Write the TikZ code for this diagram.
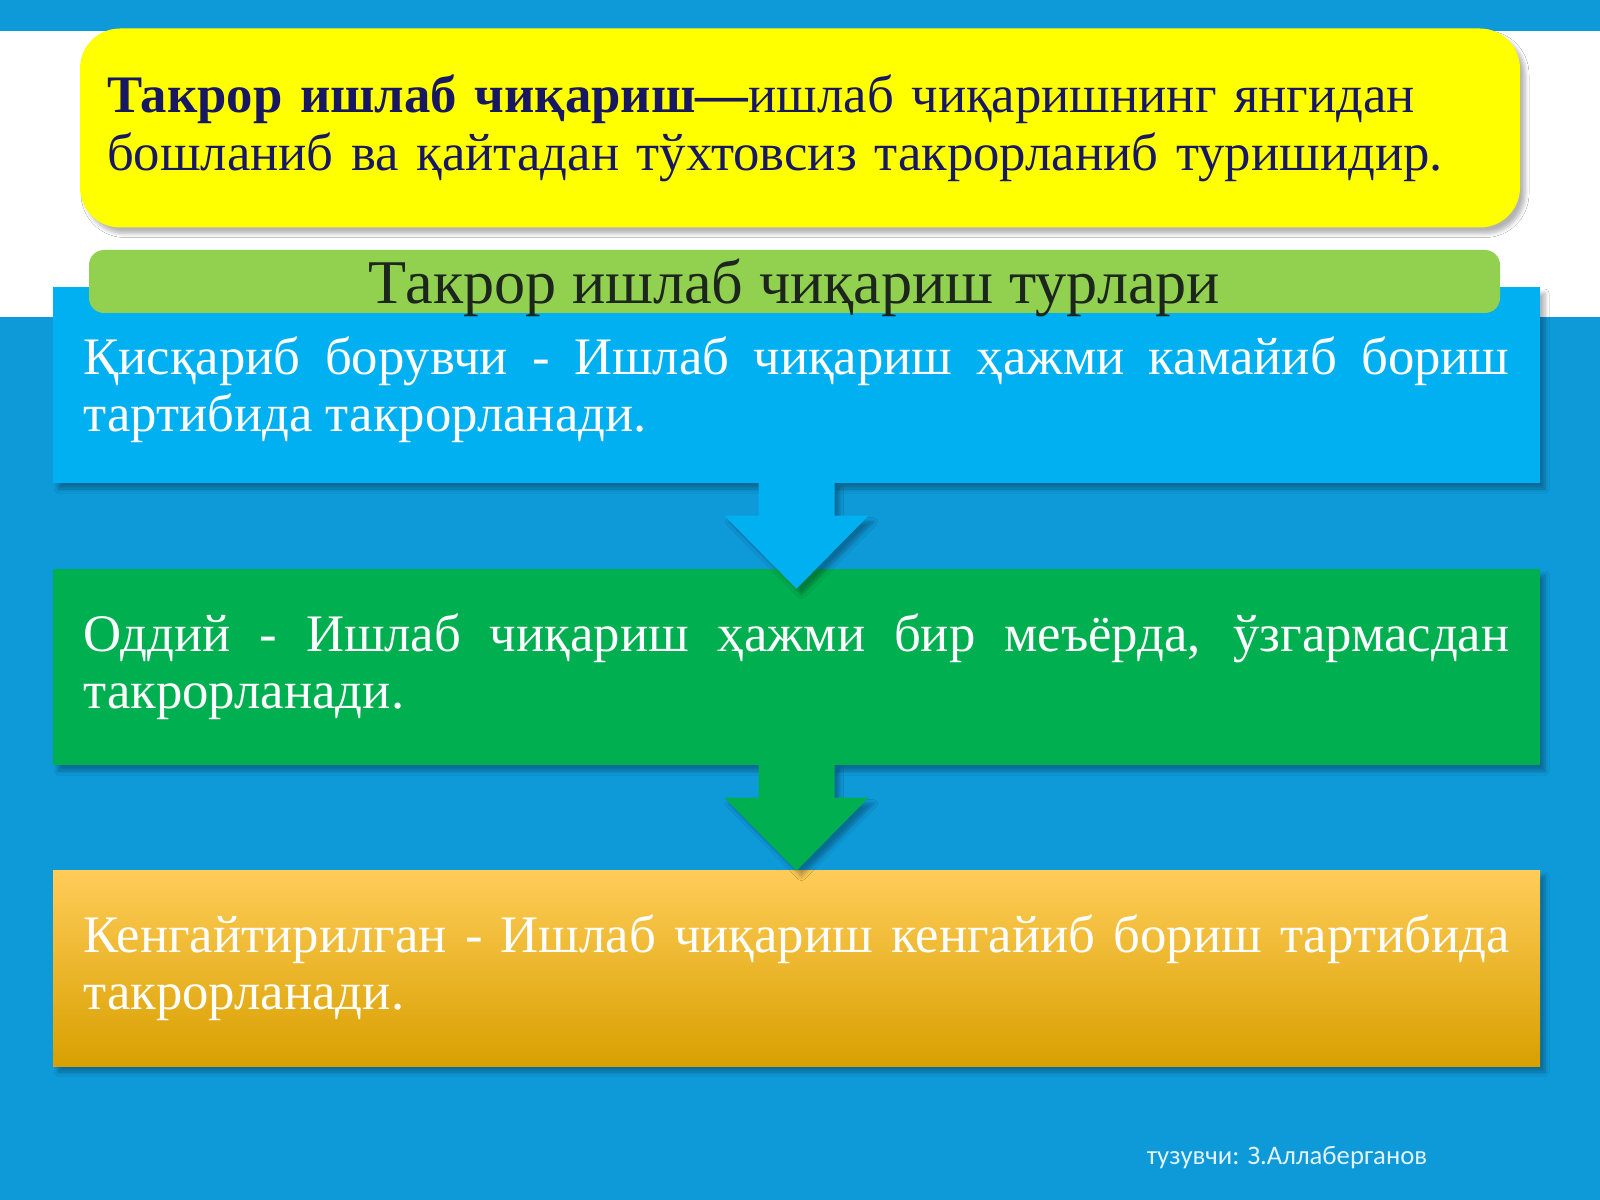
\documentclass[tikz,border=0pt]{standalone}
\usepackage{fontspec}
\setmainfont{Liberation Serif}
\newfontfamily\signfont{Carlito}
\usetikzlibrary{calc,shadows,shadows.blur}

\definecolor{slidebg}{RGB}{14,153,217}
\definecolor{boxblue}{RGB}{0,176,240}
\definecolor{boxgreen}{RGB}{0,176,80}
\definecolor{bargreen}{RGB}{146,208,80}
\definecolor{defyellow}{RGB}{255,255,0}
\definecolor{defnavy}{RGB}{24,24,98}
\definecolor{titledark}{RGB}{28,38,28}
\definecolor{orangetop}{RGB}{255,204,88}
\definecolor{orangebot}{RGB}{216,160,0}

% block arrow from the bottom of one box down to the next one
\newcommand\blockarrow[3]{
	\fill[#1, boxshadow] ($(#2.south)+(-38,-2)$) -- ($(#2.south)+(-38,32)$)
		-- ($(#2.south)+(-72,32)$) -- ($(#3.north)!1!(#2.south)+(0,105)$)
		-- ($(#2.south)+(72,32)$) -- ($(#2.south)+(38,32)$)
		-- ($(#2.south)+(38,-2)$) -- cycle;
	}

\begin{document}
\begin{tikzpicture}[x=0.1mm, y=-0.1mm,
	boxshadow/.style={blur shadow={shadow xshift=0.5mm, shadow yshift=-0.6mm, shadow blur radius=0.4mm,
		shadow blur steps=6, shadow opacity=30}},
	stepbox/.style={boxshadow, minimum width=148.7mm, minimum height=19.6mm, text width=142.6mm,
		inner sep=0pt, align=justify, text=white, font=\fontsize{15}{16.3}\selectfont},
	defbox/.style={boxshadow, fill=defyellow, rounded corners=4mm, minimum width=144mm,
		minimum height=19.9mm, text width=138.6mm, inner sep=0pt, align=left, text=defnavy,
		font=\fontsize{15}{16.5}\selectfont},
	titlebar/.style={fill=bargreen, rounded corners=1.5mm, minimum width=141.1mm,
		minimum height=6.3mm, inner sep=0pt, text depth=0pt, text=titledark,
		font=\fontsize{17.7}{20}\selectfont}]

	% background of the slide
	\useasboundingbox (0,0) rectangle (1600,1200);
	\fill[slidebg] (0,0) rectangle (1600,1200);
	\fill[white] (0,31) rectangle (1600,317);

	% definition
	\node[defbox] (def) at (800,128) {\textbf{Такрор ишлаб чиқариш—}ишлаб чиқаришнинг янгидан\\
		бошланиб ва қайтадан тўхтовсиз такрорланиб туришидир.};

	% the three kinds
	\node[stepbox, fill=boxblue] (shrink) at (796.5,385) {\rule{0pt}{13.6pt}Қисқариб борувчи - Ишлаб чиқариш ҳажми камайиб бориш\linebreak
		тартибида такрорланади.};
	\node[titlebar] (kinds) at (794.5,281.5) {Такрор ишлаб чиқариш турлари};

	\node[stepbox, fill=boxgreen] (simple) at (796.5,667) {Оддий - Ишлаб чиқариш ҳажми бир меъёрда, ўзгармасдан\linebreak
		такрорланади.};
	\blockarrow{boxblue}{shrink}{simple}

	\node[stepbox, top color=orangetop, bottom color=orangebot] (wide) at (796.5,968)
		{Кенгайтирилган - Ишлаб чиқариш кенгайиб бориш тартибида\linebreak такрорланади.};
	\blockarrow{boxgreen}{simple}{wide}

	% author
	\node[text=white!88!slidebg, font=\signfont\fontsize{7.6}{9}\selectfont] (sign) at (1287,1158)
		{тузувчи: З.Аллаберганов};

\end{tikzpicture}
\end{document}
